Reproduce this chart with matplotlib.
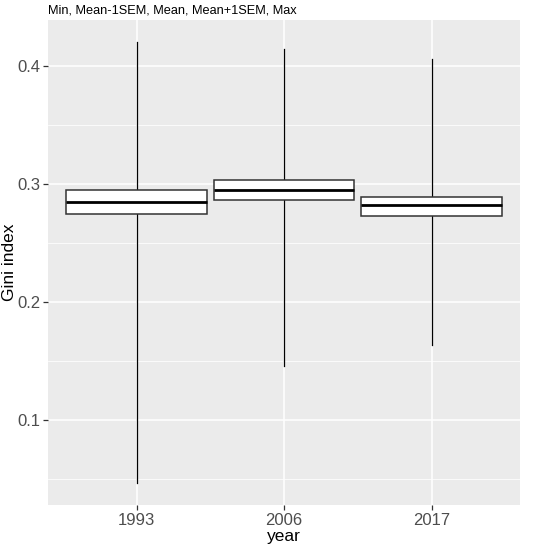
import matplotlib
matplotlib.use("Agg")
import matplotlib.pyplot as plt
from matplotlib.patches import Rectangle

years = ["1993", "2006", "2017"]
ymin = [0.0464, 0.1459, 0.1638]
lower = [0.2749, 0.2865, 0.2732]
mean = [0.2848, 0.2953, 0.2820]
upper = [0.2950, 0.3035, 0.2894]
ymax = [0.4206, 0.4146, 0.4060]

plt.rcParams['font.family'] = ['Liberation Sans', 'DejaVu Sans']

fig = plt.figure(figsize=(5.5, 5.49), dpi=100)
ax = fig.add_axes([48/550, 1-505/549, 472/550, 485/549])
ax.set_facecolor('#EBEBEB')

pos = [1, 2, 3]
w = 0.95
for x, a, lo, m, hi, b in zip(pos, ymin, lower, mean, upper, ymax):
    ax.plot([x, x], [a, lo], color='black', lw=0.9, zorder=3)
    ax.plot([x, x], [hi, b], color='black', lw=0.9, zorder=3)
    ax.add_patch(Rectangle((x - w/2, lo), w, hi - lo, facecolor='white',
                           edgecolor='#333333', lw=1.1, zorder=4))
    ax.plot([x - w/2, x + w/2], [m, m], color='black', lw=2.0, zorder=5,
            solid_capstyle='butt')

lo_all, hi_all = min(ymin), max(ymax)
pad = (hi_all - lo_all) * 0.05
ax.set_ylim(lo_all - pad, hi_all + pad)
ax.set_xlim(0.4, 3.6)

ax.set_xticks(pos)
ax.set_xticklabels(years)
ax.set_yticks([0.1, 0.2, 0.3, 0.4])
ax.set_yticklabels(['0.1', '0.2', '0.3', '0.4'])
ax.set_yticks([0.05, 0.15, 0.25, 0.35], minor=True)
ax.grid(which='major', color='white', lw=1.1)
ax.grid(which='minor', axis='y', color='white', lw=0.55)
ax.set_axisbelow(True)
for s in ax.spines.values():
    s.set_visible(False)
ax.tick_params(which='major', length=3.5, width=0.9, color='#333333',
               labelsize=12, labelcolor='#4D4D4D', pad=2)
ax.tick_params(which='minor', length=0)

ax.set_xlabel('year', fontsize=12.5, color='black', labelpad=1)
ax.set_ylabel('Gini index', fontsize=12.5, color='black', va='center')
ax.yaxis.set_label_coords(-10/472 - 0.06, 0.5)
ax.set_title('Min, Mean-1SEM, Mean, Mean+1SEM, Max', fontsize=9.2, loc='left',
             pad=5, color='black')

fig.savefig('out.png', dpi=100)
